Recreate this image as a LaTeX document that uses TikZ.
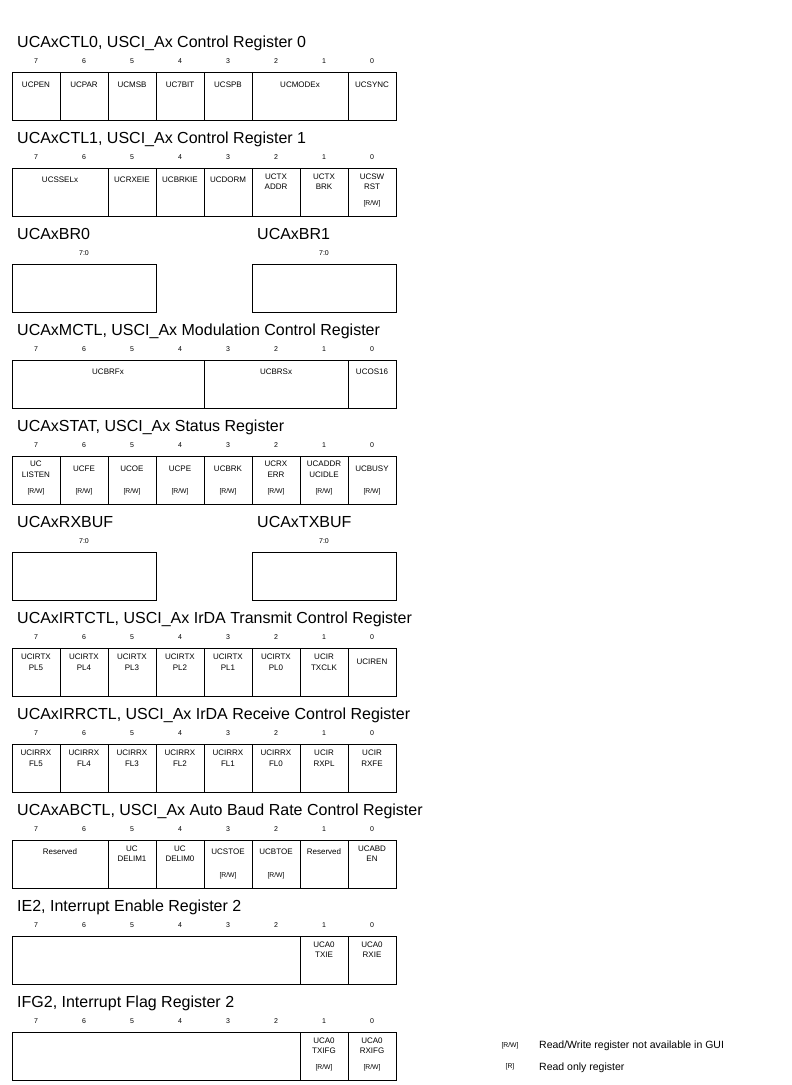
\documentclass[tikz,border=0pt]{standalone}
\usepackage{fontspec}
\setmainfont{Liberation Sans}
\tikzset{
  ttl/.style={anchor=base west, inner sep=0pt, font=\fontsize{16}{18}\selectfont},
  bitn/.style={inner sep=0pt, font=\fontsize{7}{8}\selectfont},
  cellbox/.style={draw, line width=1pt, minimum height=48pt, inner sep=0pt, outer sep=0pt},
  lab/.style={inner sep=0pt, align=center, font=\fontsize{8}{10.5}\selectfont},
  rwlab/.style={inner sep=0pt, font=\fontsize{6.8}{8}\selectfont},
  legtxt/.style={anchor=west, inner sep=0pt, font=\fontsize{10.5}{12}\selectfont},
}
% \cell{name}{col}{span}{top}{dy}{text}{rw}
\newcommand\cell[7]{%
  \node[cellbox, minimum width={48pt*#3}, anchor=north west] (#1) at ({12+48*#2},#4) {};
  \node[lab] (#1-t) at ({12+48*#2+24*#3},{#4+#5}) {#6};
  \def\rwtmp{#7}%
  \ifx\rwtmp\empty\else
    \node[rwlab] (#1-rw) at ({12+48*#2+24*#3},{#4+35.5}) {#7};
  \fi
}
% \bits{prefix}{top}
\newcommand\bits[2]{%
  \foreach \b in {0,...,7} {
    \node[bitn] (#1-n\b) at ({36+48*(7-\b)},{#2-11}) {\b};
  }
}
\begin{document}
\begin{tikzpicture}[x=1pt,y=-1pt]
\useasboundingbox (0,0) rectangle (792,1085);

% ---- UCAxCTL0
\node[ttl] (t0) at (17,47) {UCAxCTL0, USCI\_Ax Control Register 0};
\bits{r0}{72}
\cell{c0a}{0}{1}{72}{13}{UCPEN}{}
\cell{c0b}{1}{1}{72}{13}{UCPAR}{}
\cell{c0c}{2}{1}{72}{13}{UCMSB}{}
\cell{c0d}{3}{1}{72}{13}{UC7BIT}{}
\cell{c0e}{4}{1}{72}{13}{UCSPB}{}
\cell{c0f}{5}{2}{72}{13}{UCMODEx}{}
\cell{c0g}{7}{1}{72}{13}{UCSYNC}{}

% ---- UCAxCTL1
\node[ttl] (t1) at (17,143) {UCAxCTL1, USCI\_Ax Control Register 1};
\bits{r1}{168}
\cell{c1a}{0}{2}{168}{12}{UCSSELx}{}
\cell{c1b}{2}{1}{168}{12}{UCRXEIE}{}
\cell{c1c}{3}{1}{168}{12}{UCBRKIE}{}
\cell{c1d}{4}{1}{168}{12}{UCDORM}{}
\cell{c1e}{5}{1}{168}{13.5}{UCTX\\ADDR}{}
\cell{c1f}{6}{1}{168}{13.5}{UCTX\\BRK}{}
\cell{c1g}{7}{1}{168}{13.5}{UCSW\\RST}{[R/W]}

% ---- UCAxBR0 / UCAxBR1
\node[ttl] (t2a) at (17,239) {UCAxBR0};
\node[ttl] (t2b) at (257,239) {UCAxBR1};
\node[bitn] (r2a) at (84,253) {7:0};
\node[bitn] (r2b) at (324,253) {7:0};
\node[cellbox, minimum width=144pt, anchor=north west] (br0) at (12,264) {};
\node[cellbox, minimum width=144pt, anchor=north west] (br1) at (252,264) {};

% ---- UCAxMCTL
\node[ttl] (t3) at (17,335) {UCAxMCTL, USCI\_Ax Modulation Control Register};
\bits{r3}{360}
\cell{c3a}{0}{4}{360}{12}{UCBRFx}{}
\cell{c3b}{4}{3}{360}{12}{UCBRSx}{}
\cell{c3c}{7}{1}{360}{12}{UCOS16}{}

% ---- UCAxSTAT
\node[ttl] (t4) at (17,431) {UCAxSTAT, USCI\_Ax Status Register};
\bits{r4}{456}
\cell{c4a}{0}{1}{456}{13}{UC\\LISTEN}{[R/W]}
\cell{c4b}{1}{1}{456}{13}{UCFE}{[R/W]}
\cell{c4c}{2}{1}{456}{13}{UCOE}{[R/W]}
\cell{c4d}{3}{1}{456}{13}{UCPE}{[R/W]}
\cell{c4e}{4}{1}{456}{13}{UCBRK}{[R/W]}
\cell{c4f}{5}{1}{456}{13}{UCRX\\ERR}{[R/W]}
\cell{c4g}{6}{1}{456}{13}{UCADDR\\UCIDLE}{[R/W]}
\cell{c4h}{7}{1}{456}{13}{UCBUSY}{[R/W]}

% ---- UCAxRXBUF / UCAxTXBUF
\node[ttl] (t5a) at (17,527) {UCAxRXBUF};
\node[ttl] (t5b) at (257,527) {UCAxTXBUF};
\node[bitn] (r5a) at (84,541) {7:0};
\node[bitn] (r5b) at (324,541) {7:0};
\node[cellbox, minimum width=144pt, anchor=north west] (rxbuf) at (12,552) {};
\node[cellbox, minimum width=144pt, anchor=north west] (txbuf) at (252,552) {};

% ---- UCAxIRTCTL
\node[ttl] (t6) at (17,623) {UCAxIRTCTL, USCI\_Ax IrDA Transmit Control Register};
\bits{r6}{648}
\cell{c6a}{0}{1}{648}{14}{UCIRTX\\PL5}{}
\cell{c6b}{1}{1}{648}{14}{UCIRTX\\PL4}{}
\cell{c6c}{2}{1}{648}{14}{UCIRTX\\PL3}{}
\cell{c6d}{3}{1}{648}{14}{UCIRTX\\PL2}{}
\cell{c6e}{4}{1}{648}{14}{UCIRTX\\PL1}{}
\cell{c6f}{5}{1}{648}{14}{UCIRTX\\PL0}{}
\cell{c6g}{6}{1}{648}{14}{UCIR\\TXCLK}{}
\cell{c6h}{7}{1}{648}{14}{UCIREN}{}

% ---- UCAxIRRCTL
\node[ttl] (t7) at (17,719) {UCAxIRRCTL, USCI\_Ax IrDA Receive Control Register};
\bits{r7}{744}
\cell{c7a}{0}{1}{744}{14}{UCIRRX\\FL5}{}
\cell{c7b}{1}{1}{744}{14}{UCIRRX\\FL4}{}
\cell{c7c}{2}{1}{744}{14}{UCIRRX\\FL3}{}
\cell{c7d}{3}{1}{744}{14}{UCIRRX\\FL2}{}
\cell{c7e}{4}{1}{744}{14}{UCIRRX\\FL1}{}
\cell{c7f}{5}{1}{744}{14}{UCIRRX\\FL0}{}
\cell{c7g}{6}{1}{744}{14}{UCIR\\RXPL}{}
\cell{c7h}{7}{1}{744}{14}{UCIR\\RXFE}{}

% ---- UCAxABCTL
\node[ttl] (t8) at (17,815) {UCAxABCTL, USCI\_Ax Auto Baud Rate Control Register};
\bits{r8}{840}
\cell{c8a}{0}{2}{840}{12}{Reserved}{}
\cell{c8b}{2}{1}{840}{13.5}{UC\\DELIM1}{}
\cell{c8c}{3}{1}{840}{13.5}{UC\\DELIM0}{}
\cell{c8d}{4}{1}{840}{12}{UCSTOE}{[R/W]}
\cell{c8e}{5}{1}{840}{12}{UCBTOE}{[R/W]}
\cell{c8f}{6}{1}{840}{12}{Reserved}{}
\cell{c8g}{7}{1}{840}{13.5}{UCABD\\EN}{}

% ---- IE2
\node[ttl] (t9) at (17,911) {IE2, Interrupt Enable Register 2};
\bits{r9}{936}
\cell{c9a}{0}{6}{936}{13}{}{}
\cell{c9b}{6}{1}{936}{13.5}{UCA0\\TXIE}{}
\cell{c9c}{7}{1}{936}{13.5}{UCA0\\RXIE}{}

% ---- IFG2
\node[ttl] (t10) at (17,1007) {IFG2, Interrupt Flag Register 2};
\bits{r10}{1032}
\cell{c10a}{0}{6}{1032}{13}{}{}
\cell{c10b}{6}{1}{1032}{13.5}{UCA0\\TXIFG}{[R/W]}
\cell{c10c}{7}{1}{1032}{13.5}{UCA0\\RXIFG}{[R/W]}

% ---- legend
\node[rwlab] (lg1) at (510,1046) {[R/W]};
\node[legtxt] (lg1t) at (539,1046) {Read/Write register not available in GUI};
\node[rwlab] (lg2) at (510,1067) {[R]};
\node[legtxt] (lg2t) at (539,1068) {Read only register};
\end{tikzpicture}
\end{document}
